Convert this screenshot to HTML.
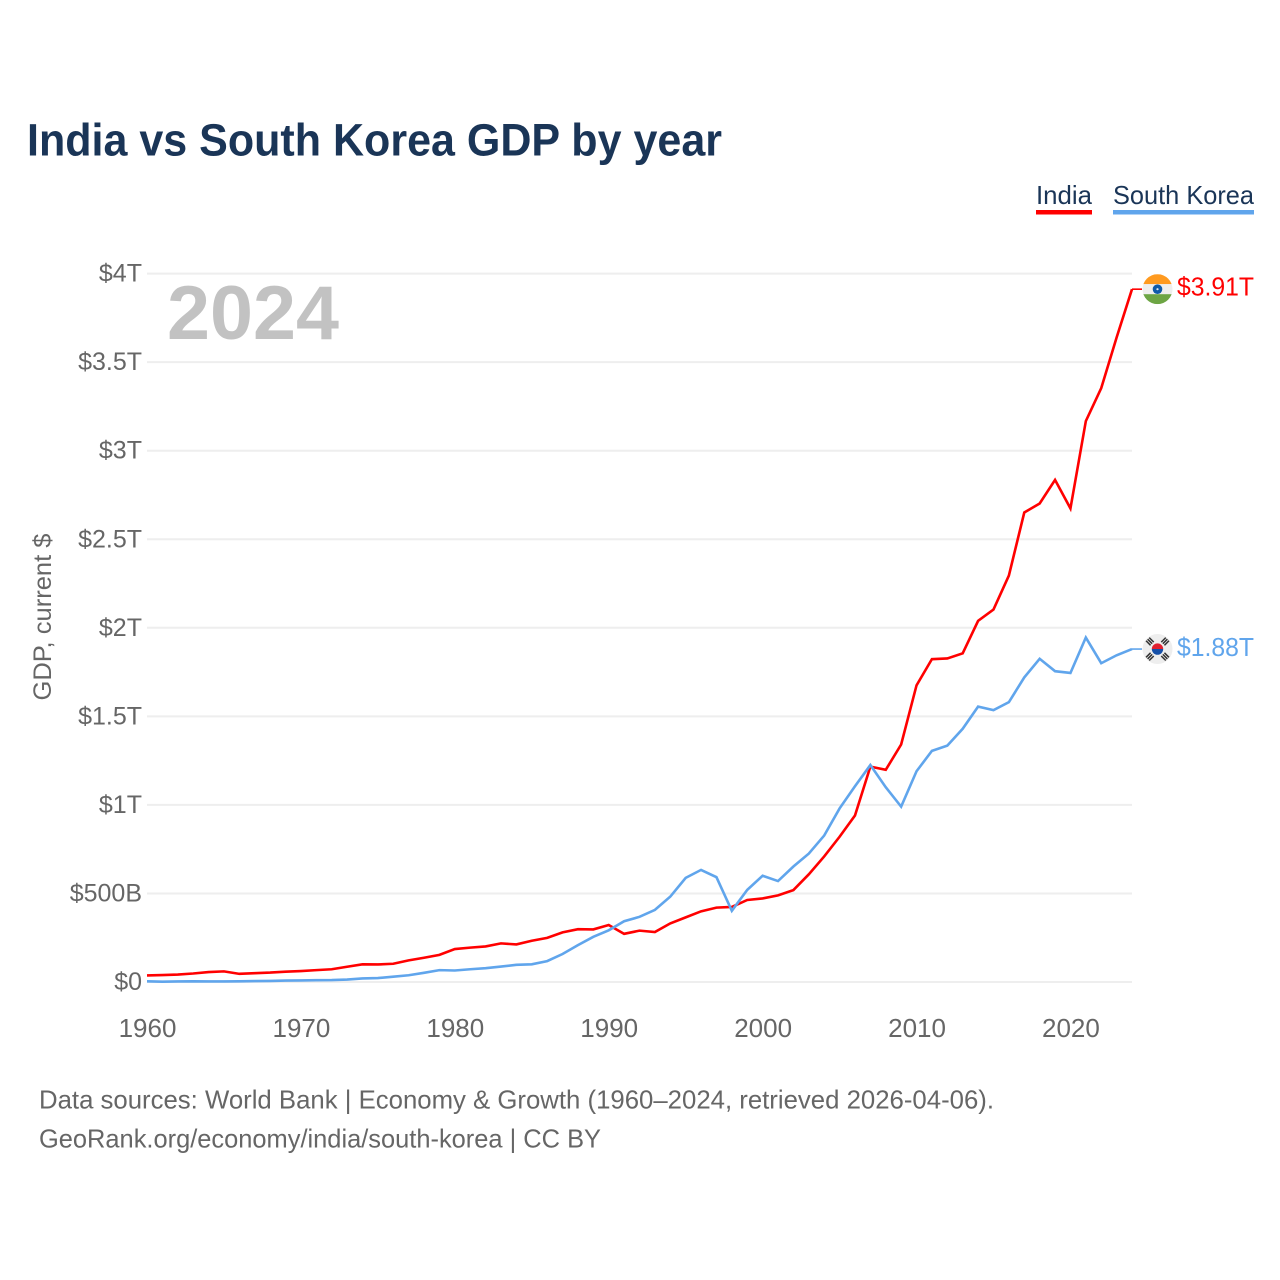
<!DOCTYPE html>
<html lang="en">
<head>
<meta charset="utf-8">
<title>India vs South Korea GDP by year</title>
<style>
  html, body { margin: 0; padding: 0; background: #fff; }
  #chart { display: block; width: 1280px; height: 1280px; font-family: "Liberation Sans", sans-serif; }
</style>
</head>
<body>
<svg id="chart" xmlns="http://www.w3.org/2000/svg" width="1280" height="1280" viewBox="0 0 1280 1280">
  <rect x="0" y="0" width="1280" height="1280" fill="#ffffff"/>
  <text x="27" y="155.5" font-size="45" font-weight="700" fill="#1a3557" textLength="695" lengthAdjust="spacingAndGlyphs">India vs South Korea GDP by year</text>

  <g>
    <g>
      <text x="1036" y="204" font-size="26" fill="#1a3557" textLength="56" lengthAdjust="spacingAndGlyphs">India</text>
      <rect x="1036" y="210" width="56" height="4.5" fill="#ff0000"/>
    </g>
    <g>
      <text x="1113" y="204" font-size="26" fill="#1a3557" textLength="141" lengthAdjust="spacingAndGlyphs">South Korea</text>
      <rect x="1113" y="210" width="141" height="4.5" fill="#60a5ec"/>
    </g>
  </g>

  <g id="grid"></g>
  <g id="yticks"></g>
  <g id="xticks"></g>

  <text x="167" y="339" font-size="76" font-weight="700" fill="#c2c2c2" textLength="172" lengthAdjust="spacingAndGlyphs">2024</text>
  <text transform="translate(51 617) rotate(-90)" text-anchor="middle" font-size="25" fill="#666666" textLength="167" lengthAdjust="spacingAndGlyphs">GDP, current $</text>

  <g id="series"></g>
  <g id="ends"></g>

  <text x="39" y="1108.5" font-size="26" fill="#666666" textLength="955" lengthAdjust="spacingAndGlyphs">Data sources: World Bank | Economy &amp; Growth (1960–2024, retrieved 2026-04-06).</text>
  <text x="39" y="1147.5" font-size="26" fill="#666666" textLength="562" lengthAdjust="spacingAndGlyphs">GeoRank.org/economy/india/south-korea | CC BY</text>
</svg>

<script>
const startYear = 1960;
const indiaValues = [0.037,0.039,0.042,0.048,0.056,0.060,0.046,0.050,0.053,0.058,0.062,0.067,0.072,0.086,0.100,0.099,0.103,0.122,0.137,0.153,0.186,0.194,0.201,0.218,0.212,0.233,0.249,0.280,0.298,0.297,0.322,0.272,0.290,0.282,0.331,0.365,0.399,0.420,0.424,0.463,0.472,0.489,0.519,0.608,0.709,0.820,0.940,1.216,1.198,1.341,1.675,1.823,1.827,1.856,2.039,2.103,2.295,2.651,2.702,2.835,2.674,3.167,3.353,3.639,3.912];
const koreaValues = [0.004,0.002,0.003,0.004,0.003,0.003,0.004,0.005,0.006,0.008,0.009,0.010,0.011,0.014,0.020,0.022,0.030,0.038,0.052,0.067,0.065,0.072,0.078,0.087,0.097,0.100,0.118,0.158,0.208,0.255,0.292,0.343,0.368,0.407,0.482,0.588,0.633,0.592,0.402,0.520,0.600,0.570,0.652,0.725,0.827,0.980,1.105,1.225,1.100,0.990,1.190,1.305,1.335,1.430,1.555,1.535,1.580,1.720,1.825,1.755,1.745,1.945,1.800,1.845,1.880];
const yTickValues = [0,0.5,1,1.5,2,2.5,3,3.5,4];
const yTickLabels = ["$0","$500B","$1T","$1.5T","$2T","$2.5T","$3T","$3.5T","$4T"];
const xTickYears = [1960,1970,1980,1990,2000,2010,2020];
const endLabels = ["$3.91T","$1.88T"];

const NS = 'http://www.w3.org/2000/svg';
const plotLeft = 147, plotRight = 1132, yearWidth = (plotRight - plotLeft) / 64;
const zeroY = 982, pxPerTrillion = 177.1;
const xScale = function (year) { return plotLeft + (year - startYear) * yearWidth; };
const yScale = function (v) { return zeroY - v * pxPerTrillion; };
function mk(tag, attrs) {
  const el = document.createElementNS(NS, tag);
  for (const k in attrs) el.setAttribute(k, attrs[k]);
  return el;
}

const grid = document.getElementById('grid');
const yticks = document.getElementById('yticks');
const xticks = document.getElementById('xticks');
const series = document.getElementById('series');
const ends = document.getElementById('ends');

yTickValues.forEach(function (v, i) {
  const line = mk('line', { x1: plotLeft, x2: plotRight, y1: yScale(v), y2: yScale(v), stroke: '#eeeeee', 'stroke-width': 2 });
  
  
  grid.appendChild(line);
  const t = mk('text', { x: 142, y: yScale(v) + 8, 'text-anchor': 'end', 'font-size': 25, fill: '#666666' });
  t.textContent = yTickLabels[i];
  
  
  yticks.appendChild(t);
});

xTickYears.forEach(function (yr) {
  const t = mk('text', { x: xScale(yr) + 0.5, y: 1037, 'text-anchor': 'middle', 'font-size': 26, fill: '#666666' });
  t.textContent = String(yr);
  
  
  xticks.appendChild(t);
});

function linePoints(values) {
  return values.map(function (v, i) { return xScale(startYear + i).toFixed(2) + ',' + yScale(v).toFixed(2); }).join(' ');
}

const indiaLine = mk('polyline', { points: linePoints(indiaValues), fill: 'none', stroke: '#ff0000', 'stroke-width': 2.6, 'stroke-linejoin': 'miter' });


series.appendChild(indiaLine);

const koreaLine = mk('polyline', { points: linePoints(koreaValues), fill: 'none', stroke: '#60a5ec', 'stroke-width': 2.6, 'stroke-linejoin': 'miter' });


series.appendChild(koreaLine);

const indiaEndY = yScale(indiaValues[indiaValues.length - 1]);
const koreaEndY = yScale(koreaValues[koreaValues.length - 1]);
const flagX = 1157.5;

const indiaConn = mk('line', { x1: plotRight, x2: 1142, y1: indiaEndY, y2: indiaEndY, stroke: '#ff0000', 'stroke-width': 1.6 });


ends.appendChild(indiaConn);

const koreaConn = mk('line', { x1: plotRight, x2: 1142, y1: koreaEndY, y2: koreaEndY, stroke: '#60a5ec', 'stroke-width': 1.6 });


ends.appendChild(koreaConn);

/* flags: drawn in local coordinates around each line's end value */
const defs = mk('defs', {});
const clip = mk('clipPath', { id: 'flag-clip' });
clip.appendChild(mk('circle', { cx: 0, cy: 0, r: 15 }));
defs.appendChild(clip);
ends.appendChild(defs);

const indiaFlag = mk('g', { transform: 'translate(' + flagX + ' ' + indiaEndY + ')' });


const indiaClip = mk('g', { 'clip-path': 'url(#flag-clip)' });
indiaClip.appendChild(mk('rect', { x: -15, y: -15, width: 30, height: 10, fill: '#ff9a1f' }));
indiaClip.appendChild(mk('rect', { x: -15, y: -5, width: 30, height: 10, fill: '#eeeeee' }));
indiaClip.appendChild(mk('rect', { x: -15, y: 5, width: 30, height: 10, fill: '#6da544' }));
indiaFlag.appendChild(indiaClip);
indiaFlag.appendChild(mk('circle', { cx: 0, cy: 0, r: 4.8, fill: '#0f5aa8' }));
indiaFlag.appendChild(mk('circle', { cx: 0, cy: 0, r: 1.1, fill: '#dfe8f2' }));
ends.appendChild(indiaFlag);

const koreaFlag = mk('g', { transform: 'translate(' + flagX + ' ' + koreaEndY + ')' });


koreaFlag.appendChild(mk('circle', { cx: 0, cy: 0, r: 15, fill: '#eeeeee' }));
koreaFlag.appendChild(mk('path', { d: 'M-5.7 0A5.7 5.7 0 0 1 5.7 0Z', fill: '#e0202f' }));
koreaFlag.appendChild(mk('path', { d: 'M-5.7 0A5.7 5.7 0 0 0 5.7 0Z', fill: '#1550a8' }));
[[-7.6, -7.6, 45], [7.6, -7.6, -45], [-7.6, 7.6, -45], [7.6, 7.6, 45]].forEach(function (b) {
  const bars = mk('g', { transform: 'translate(' + b[0] + ' ' + b[1] + ') rotate(' + b[2] + ')', fill: '#333333' });
  bars.appendChild(mk('rect', { x: -3.2, y: -3, width: 6.4, height: 1.5 }));
  bars.appendChild(mk('rect', { x: -3.2, y: -0.75, width: 6.4, height: 1.5 }));
  bars.appendChild(mk('rect', { x: -3.2, y: 1.5, width: 6.4, height: 1.5 }));
  koreaFlag.appendChild(bars);
});
ends.appendChild(koreaFlag);

const indiaLabel = mk('text', { x: 1177, y: indiaEndY + 6.5, 'font-size': 26, fill: '#ff0000', textLength: 77, lengthAdjust: 'spacingAndGlyphs' });
indiaLabel.textContent = endLabels[0];


ends.appendChild(indiaLabel);

const koreaLabel = mk('text', { x: 1177, y: koreaEndY + 7, 'font-size': 26, fill: '#60a5ec', textLength: 77, lengthAdjust: 'spacingAndGlyphs' });
koreaLabel.textContent = endLabels[1];


ends.appendChild(koreaLabel);
</script>
</body>
</html>
